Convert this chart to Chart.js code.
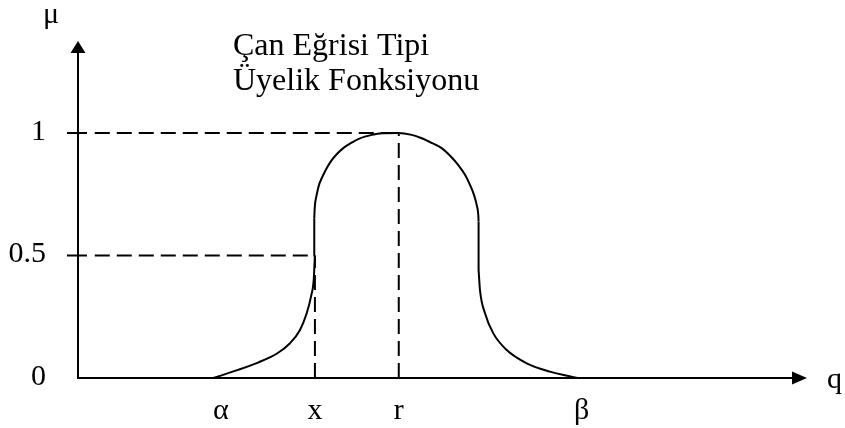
<!DOCTYPE html>
<html>
<head>
<meta charset="utf-8">
<script src="https://cdn.jsdelivr.net/npm/chart.js@4.4.0/dist/chart.umd.min.js"></script>
<style>
  html, body { margin:0; padding:0; background:#fff; }
</style>
</head>
<body>
<canvas id="bellChart" width="845" height="428"></canvas>
<script>
  // bell-type membership curve, sampled along q in three pieces
  const leftTailQ  = [18.56, 21.95, 24.69, 27.30, 29.08, 30.45, 31.37, 31.96, 32.33, 32.50];
  const leftTailMu = [0, 0.033, 0.063, 0.100, 0.142, 0.196, 0.264, 0.332, 0.400, 0.500];
  const capQ  = [32.41, 32.47, 32.74, 33.06, 33.43, 33.98, 34.66, 35.39, 36.39, 37.41, 38.68, 40.29, 41.66, 43.94,
                 45.78, 47.15, 48.60, 49.89, 51.17, 52.17, 53.09, 53.77, 54.32, 54.69, 54.91, 54.95];
  const capMu = [0.652, 0.693, 0.747, 0.788, 0.815, 0.849, 0.883, 0.910, 0.938, 0.958, 0.978, 0.992, 0.999, 1.0,
                 0.992, 0.978, 0.958, 0.938, 0.903, 0.869, 0.829, 0.788, 0.747, 0.706, 0.665, 0.638];
  const rightTailQ  = [54.95, 55.14, 55.83, 56.97, 58.81, 61.55, 64.75, 68.52];
  const rightTailMu = [0.441, 0.359, 0.264, 0.182, 0.114, 0.060, 0.026, 0];

  // symbols under the q axis
  const qTicks      = [19.6, 32.5, 44.0, 69.1];
  const qTickLabels = ['α', 'x', 'r', 'β'];

  // membership levels on the μ axis
  const muTicks      = [0, 0.5, 1];
  const muTickLabels = ['0', '0.5', '1'];

  const titleLines = ['Çan Eğrisi Tipi', 'Üyelik Fonksiyonu'];
  const qName  = 'q';
  const muName = 'μ';

  const SERIF = '"Liberation Serif", "Times New Roman", serif';

  const pts = (qs, mus) => qs.map((q, i) => ({ x: q, y: mus[i] }));
  const solid = { borderColor:'#000', borderWidth:2, pointRadius:0, fill:false };
  const smooth = { ...solid, cubicInterpolationMode:'monotone' };

  // the two straight steps that join the tails to the cap
  const last = a => a[a.length - 1];
  const steps = [
    [{ x: last(leftTailQ), y: last(leftTailMu) }, { x: capQ[0], y: capMu[0] }],
    [{ x: last(capQ), y: last(capMu) }, { x: rightTailQ[0], y: rightTailMu[0] }]
  ].map(d => ({ ...solid, tension:0, data: d }));

  // dashed guides: level lines to the curve, drop lines from x and r
  const guideStart = 2.3;
  const dashed = { borderColor:'#000', borderWidth:2, borderDash:[15,7], pointRadius:0, tension:0, clip:false, fill:false };
  const guides = [
    [{ x: guideStart, y: muTicks[2] }, { x: qTicks[2], y: muTicks[2] }],
    [{ x: guideStart, y: muTicks[1] }, { x: qTicks[1], y: muTicks[1] }],
    [{ x: qTicks[1], y: muTicks[0] }, { x: qTicks[1], y: muTicks[1] }],
    [{ x: qTicks[2], y: muTicks[0] }, { x: qTicks[2], y: muTicks[2] }]
  ].map(d => ({ ...dashed, data: d }));

  // axes with arrow heads, tick stubs and all text
  const axesPlugin = {
    id: 'axesAndText',
    afterDatasetsDraw(chart) {
      const { ctx, scales: { x, y } } = chart;
      const x0 = x.getPixelForValue(0), y0 = y.getPixelForValue(0);
      const xEnd = x.getPixelForValue(x.max), yEnd = y.getPixelForValue(y.max);
      ctx.save();
      ctx.strokeStyle = '#000';
      ctx.fillStyle = '#000';
      ctx.lineWidth = 2;
      ctx.beginPath();
      ctx.moveTo(x0, y0 + 1); ctx.lineTo(x0, yEnd + 8);
      ctx.moveTo(x0 - 1, y0); ctx.lineTo(xEnd - 8, y0);
      // solid stubs at 0.5 and 1
      muTicks.slice(1).forEach(v => {
        const py = y.getPixelForValue(v);
        ctx.moveTo(x0 - 11, py); ctx.lineTo(x0 + 9, py);
      });
      ctx.stroke();

      ctx.beginPath();
      ctx.moveTo(x0, yEnd); ctx.lineTo(x0 - 7.5, yEnd + 12); ctx.lineTo(x0 + 7.5, yEnd + 12); ctx.closePath();
      ctx.moveTo(xEnd, y0); ctx.lineTo(xEnd - 15, y0 - 6.5); ctx.lineTo(xEnd - 15, y0 + 6.5); ctx.closePath();
      ctx.fill();

      ctx.font = '30px ' + SERIF;
      ctx.textBaseline = 'alphabetic';
      ctx.textAlign = 'right';
      muTicks.forEach((v, i) => ctx.fillText(muTickLabels[i], x0 - 32, y.getPixelForValue(v) + 7));
      ctx.textAlign = 'center';
      qTicks.forEach((v, i) => ctx.fillText(qTickLabels[i], x.getPixelForValue(v), y0 + 41));

      ctx.textAlign = 'left';
      ctx.fillText(muName, x0 - 35, 23);
      ctx.fillText(qName, xEnd + 20, y0 + 10);

      ctx.font = '32px ' + SERIF;
      titleLines.forEach((t, i) => ctx.fillText(t, 233, 55 + i * 35));
      ctx.restore();
    }
  };

  new Chart(document.getElementById('bellChart').getContext('2d'), {
    type: 'line',
    data: {
      datasets: [
        { ...smooth, data: pts(leftTailQ, leftTailMu) },
        { ...smooth, data: pts(capQ, capMu) },
        { ...smooth, data: pts(rightTailQ, rightTailMu) },
        ...steps,
        ...guides
      ]
    },
    options: {
      responsive: false,
      devicePixelRatio: 1,
      animation: false,
      layout: { padding: { left:78, right:38, top:41, bottom:50 } },
      plugins: { legend:{ display:false }, tooltip:{ enabled:false } },
      scales: {
        x: { type:'linear', min:0, max:100, display:false },
        y: { type:'linear', min:0, max:1.375, display:false }
      }
    },
    plugins: [axesPlugin]
  });
</script>
</body>
</html>
